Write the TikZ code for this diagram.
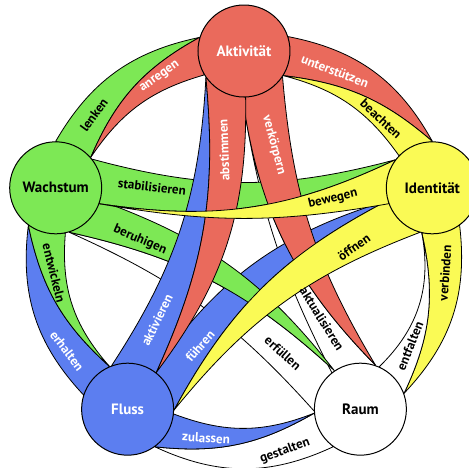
\documentclass[tikz,border=0pt]{standalone}
\usepackage{fontspec}
\setmainfont{PT Sans}
\usetikzlibrary{backgrounds}
\definecolor{rot}{RGB}{234,106,92}
\definecolor{gelb}{RGB}{250,250,85}
\definecolor{gruen}{RGB}{125,232,85}
\definecolor{blau}{RGB}{92,126,240}

\begin{document}
\begin{tikzpicture}
  [
    x=1pt, y=1pt,
    Knoten/.style={circle, draw=black, line width=1pt, minimum size=92pt, inner sep=0pt, font=\bfseries\fontsize{15}{15}\selectfont},
    Band/.style={draw=black, line width=0.8pt, line join=round},
    Wort/.style={font=\bfseries\fontsize{13}{13}\selectfont, inner sep=0pt}
  ]
  \useasboundingbox (-244,-218) rectangle (225,249);

  % Nodes
  \node[Knoten, fill=rot, text=white] (akt) at (90:198) {Aktivität};
  \node[Knoten, fill=gelb] (ide) at (18:198) {Identität};
  \node[Knoten, fill=white] (rau) at (-54:198) {Raum};
  \node[Knoten, fill=blau, text=white] (flu) at (234:198) {Fluss};
  \node[Knoten, fill=gruen] (wac) at (162:198) {Wachstum};

  \begin{scope}[on background layer]
    % Nachbarn
    \filldraw[Band, fill=gruen] (wac.90) to[bend left=24] (akt.163) to[bend right=19] (wac.41) -- cycle;
    \filldraw[Band, fill=rot] (akt.163) to[bend right=19] (wac.41) to[bend left=20] (akt.211) -- cycle;
    \filldraw[Band, fill=rot] (akt.18) to[bend left=25] (ide.90) to[bend right=17] (akt.-32) -- cycle;
    \filldraw[Band, fill=gelb] (ide.90) to[bend right=17] (akt.-32) to[bend left=20] (ide.136) -- cycle;
    \filldraw[Band, fill=gelb] (ide.-54) to[bend left=25] (rau.20) to[bend right=19] (ide.-103) -- cycle;
    \filldraw[Band, fill=white] (rau.20) to[bend right=19] (ide.-103) to[bend left=28] (rau.66) -- cycle;
    \filldraw[Band, fill=white] (rau.234) to[bend left=25] (flu.306) to[bend right=18] (rau.185) -- cycle;
    \filldraw[Band, fill=blau] (flu.306) to[bend right=18] (rau.185) to[bend left=21] (flu.354) -- cycle;
    \filldraw[Band, fill=blau] (flu.162) to[bend left=25] (wac.234) to[bend right=18] (flu.113) -- cycle;
    \filldraw[Band, fill=gruen] (wac.234) to[bend right=18] (flu.113) to[bend left=23] (wac.282) -- cycle;
    % Diagonalen
    \filldraw[Band, fill=white] (rau.182) to[bend right=12] (wac.287) to[bend left=15] (rau.124) -- cycle;
    \filldraw[Band, fill=white] (rau.71) to[bend left=18] (akt.-92) to[bend right=9] (rau.128) -- cycle;
    \filldraw[Band, fill=blau] (flu.359) to[bend left=17] (ide.-164) to[bend right=19] (flu.56) -- cycle;
    \filldraw[Band, fill=gruen] (wac.287) to[bend left=15] (rau.124) to[bend right=16] (wac.344) -- cycle;
    \filldraw[Band, fill=gruen] (wac.38) to[bend right=15] (ide.143) to[bend left=17] (wac.-20) -- cycle;
    \filldraw[Band, fill=blau] (flu.110) to[bend right=15] (akt.215) to[bend left=15] (flu.52) -- cycle;
    \filldraw[Band, fill=rot] (akt.-34) to[bend right=13] (rau.71) to[bend left=18] (akt.-92) -- cycle;
    \filldraw[Band, fill=rot] (akt.215) to[bend left=15] (flu.52) to[bend right=19] (akt.272) -- cycle;
    \filldraw[Band, fill=gelb] (ide.-106) to[bend right=15] (flu.359) to[bend left=17] (ide.-164) -- cycle;
    \filldraw[Band, fill=gelb] (ide.143) to[bend left=17] (wac.-20) to[bend right=10] (ide.200) -- cycle;
  \end{scope}

  % Beschriftung
  \node[Wort, text=white, rotate=35.5] (t-anregen) at (-84,172) {anregen};
  \node[Wort, rotate=54] (t-lenken) at (-150,134) {lenken};
  \node[Wort, text=white, rotate=-21] (t-unterstuetzen) at (91,178) {unterstützen};
  \node[Wort, rotate=-43] (t-beachten) at (137,130) {beachten};
  \node[Wort, rotate=-6.5] (t-stabilisieren) at (-92,62) {stabilisieren};
  \node[Wort, rotate=13.5] (t-bewegen) at (89,50) {bewegen};
  \node[Wort, rotate=-23] (t-beruhigen) at (-104,9) {beruhigen};
  \node[Wort, text=white, rotate=92] (t-abstimmen) at (-20,99) {abstimmen};
  \node[Wort, text=white, rotate=-75] (t-verkoerpern) at (30,104) {verkörpern};
  \node[Wort, text=white, rotate=64] (t-aktivieren) at (-87,-71) {aktivieren};
  \node[Wort, text=white, rotate=49] (t-fuehren) at (-44,-97) {führen};
  \node[Wort, text=white, rotate=-53] (t-erhalten) at (-177,-102) {erhalten};
  \node[Wort, rotate=-76] (t-entwickeln) at (-190,-24) {entwickeln};
  \node[Wort, text=white, rotate=-3.5] (t-zulassen) at (-38,-189) {zulassen};
  \node[Wort, rotate=20] (t-gestalten) at (41,-202) {gestalten};
  \node[Wort, rotate=-42] (t-erfuellen) at (39,-104) {erfüllen};
  \node[Wort, rotate=-58] (t-aktualisieren) at (78,-70) {aktualisieren};
  \node[Wort, rotate=35] (t-oeffnen) at (110,2) {öffnen};
  \node[Wort, rotate=68] (t-entfalten) at (166,-97) {entfalten};
  \node[Wort, rotate=86] (t-verbinden) at (201,-24) {verbinden};
\end{tikzpicture}
\end{document}
